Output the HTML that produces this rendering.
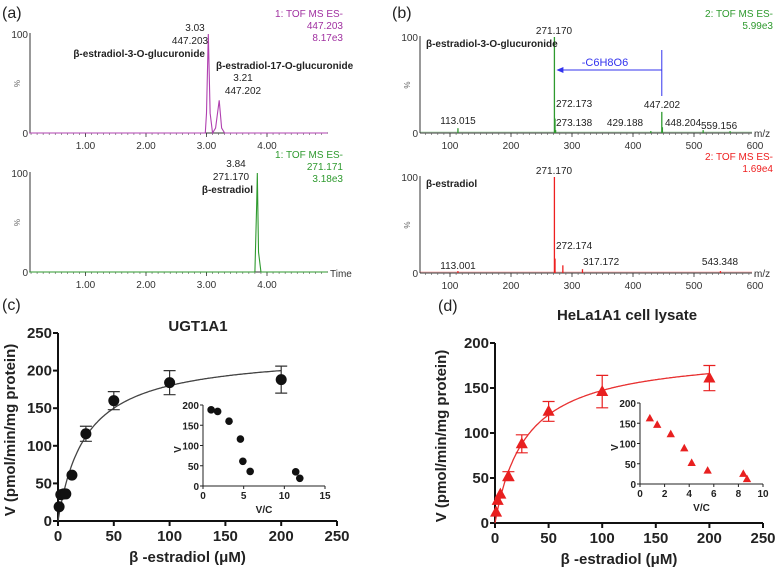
<!DOCTYPE html>
<html><head><meta charset="utf-8">
<style>
html,body{margin:0;padding:0;background:#fff;}
svg{display:block;font-family:"Liberation Sans",Arial,sans-serif;}
</style></head>
<body>
<svg id="fig" width="780" height="568" viewBox="0 0 780 568" xmlns="http://www.w3.org/2000/svg">
<g id="root"></g>
</svg>
<script>
// ---------- data ----------
// (a) chromatograms: time (min), intensity (%)
const chromTopT = [0.07, 2.98, 3.0, 3.03, 3.06, 3.1, 3.15, 3.21, 3.25, 3.3, 5.0];
const chromTopI = [0, 0, 20, 100, 20, 0, 5, 33, 5, 0, 0];
const chromBotT = [0.07, 3.8, 3.83, 3.84, 3.86, 3.9, 5.0];
const chromBotI = [0, 0, 70, 100, 20, 0, 0];
const chromTicks = [1, 2, 3, 4];
const chromTickLabels = ["1.00", "2.00", "3.00", "4.00"];
// (b) mass spectra: m/z, intensity (%)
const msTopMz = [113.015, 271.170, 272.173, 273.138, 429.188, 447.202, 448.204, 515, 559.156];
const msTopI = [5, 100, 15, 3, 2, 22, 6, 3, 2];
const msBotMz = [113.001, 271.170, 272.174, 285, 317.172, 543.348];
const msBotI = [2, 100, 15, 8, 4, 2];
const msTicks = [100, 200, 300, 400, 500, 600];
// (c) UGT1A1 kinetics
const cConc = [1, 2.5, 5, 7, 12.5, 25, 50, 100, 200];
const cV = [19, 35, 36, 36, 61, 116, 160, 184, 188];
const cErr = [0, 0, 0, 0, 0, 10, 12, 16, 18];
const cVmax = 225, cKm = 25;
const cInsetVC = [1, 1.8, 3.2, 4.6, 4.9, 5.8, 11.4, 11.9];
const cInsetV = [188, 184, 160, 116, 61, 36, 35, 19];
// (d) HeLa1A1 kinetics
const dConc = [1, 2.5, 5, 12.5, 25, 50, 100, 200];
const dV = [12, 25, 32, 52, 88, 124, 146, 161];
const dErr = [0, 0, 0, 5, 10, 11, 18, 14];
const dVmax = 190, dKm = 29;
const dInsetVC = [0.8, 1.4, 2.5, 3.6, 4.2, 5.5, 8.4, 8.7];
const dInsetV = [162, 146, 123, 88, 52, 33, 25, 12];
const mainXTicks = [0, 50, 100, 150, 200, 250];

const NS = "http://www.w3.org/2000/svg";
const root = document.getElementById("root");
function el(tag, attrs, parent, text) {
  const e = document.createElementNS(NS, tag);
  for (const k in attrs) e.setAttribute(k, attrs[k]);
  if (text !== undefined) e.textContent = text;
  (parent || root).appendChild(e);
  return e;
}
function txt(x, y, s, size, fill, anchor, weight, name, parent) {
  const t = el("text", {x: x, y: y, "font-size": size, fill: fill || "#222", "text-anchor": anchor || "start", "font-weight": weight || "normal"}, parent, s);
  
  
  return t;
}
function lin(d0, d1, p0, p1) { return v => p0 + (v - d0) * (p1 - p0) / (d1 - d0); }

// ---------- (a) chromatograms ----------
function chrom(gy0, gy100, T, I, color, name) {
  const g = el("g", {});
  
  
  const xs = lin(0, 1, 25, 85.5), ys = lin(0, 100, gy0, gy100);
  el("line", {x1: 30, y1: gy100 - 1, x2: 30, y2: gy0, stroke: "#333", "stroke-width": 1}, g);
  el("line", {x1: 30, y1: gy0, x2: 328, y2: gy0, stroke: "#333", "stroke-width": 1}, g);
  for (let t = 0.1; t < 4.95; t += 0.1) el("line", {x1: xs(t), y1: gy0, x2: xs(t), y2: gy0 + 2, stroke: "#555", "stroke-width": 0.6}, g);
  chromTicks.forEach((t, i) => {
    el("line", {x1: xs(t), y1: gy0, x2: xs(t), y2: gy0 + 4, stroke: "#333", "stroke-width": 0.8}, g);
    txt(xs(t), gy0 + 16, chromTickLabels[i], 10, "#333", "middle", "normal", "x-tick-label", g);
  });
  [0, 100].forEach(v => txt(28, ys(v) + 4, String(v), 10, "#333", "end", "normal", "y-tick-label", g));
  const pct = txt(20, ys(50), "%", 8, "#666", "middle", "normal", "y-axis-title", g);
  pct.setAttribute("transform", `rotate(-90 20 ${ys(50)})`);
  const pts = T.map((t, i) => xs(t) + "," + ys(I[i])).join(" ");
  const p = el("polyline", {points: pts, fill: "none", stroke: color, "stroke-width": 1.1}, g);
  
  
  return {xs, ys};
}
txt(2, 18, "(a)", 16, "#222", "start", "normal", "panel-label-a");
chrom(133, 34, chromTopT, chromTopI, "#b040b0", "chromatogram-glucuronides");
chrom(272, 173, chromBotT, chromBotI, "#2e9a2e", "chromatogram-estradiol");
txt(343, 17, "1: TOF MS ES-", 10, "#a030a0", "end", "normal", "trace-header");
txt(343, 29, "447.203", 10, "#a030a0", "end", "normal", "trace-header-mz");
txt(343, 41, "8.17e3", 10, "#a030a0", "end", "normal", "trace-header-intensity");
txt(195, 31, "3.03", 10, "#222", "middle", "normal", "peak-rt");
txt(190, 44, "447.203", 10, "#222", "middle", "normal", "peak-mz");
txt(205, 57, "β-estradiol-3-O-glucuronide", 10, "#222", "end", "bold", "peak-name");
txt(216, 69, "β-estradiol-17-O-glucuronide", 10, "#222", "start", "bold", "peak-name");
txt(243, 81, "3.21", 10, "#222", "middle", "normal", "peak-rt");
txt(243, 94, "447.202", 10, "#222", "middle", "normal", "peak-mz");
txt(343, 158, "1: TOF MS ES-", 10, "#2e9a2e", "end", "normal", "trace-header");
txt(343, 170, "271.171", 10, "#2e9a2e", "end", "normal", "trace-header-mz");
txt(343, 182, "3.18e3", 10, "#2e9a2e", "end", "normal", "trace-header-intensity");
txt(236, 167, "3.84", 10, "#222", "middle", "normal", "peak-rt");
txt(231, 180, "271.170", 10, "#222", "middle", "normal", "peak-mz");
txt(253, 193, "β-estradiol", 10, "#222", "end", "bold", "peak-name");
txt(330, 277, "Time", 10, "#333", "start", "normal", "x-axis-title");

// ---------- (b) spectra ----------
function spectrum(gy0, gy100, MZ, I, color, name) {
  const g = el("g", {});
  
  
  const xs = lin(0, 100, 389, 450), ys = lin(0, 100, gy0, gy100);
  el("line", {x1: 420, y1: gy100 - 1, x2: 420, y2: gy0, stroke: "#333", "stroke-width": 1}, g);
  el("line", {x1: 420, y1: gy0, x2: 752, y2: gy0, stroke: "#333", "stroke-width": 1}, g);
  for (let m = 60; m < 600; m += 10) el("line", {x1: xs(m), y1: gy0, x2: xs(m), y2: gy0 + 2, stroke: "#555", "stroke-width": 0.6}, g);
  msTicks.forEach(m => {
    el("line", {x1: xs(m), y1: gy0, x2: xs(m), y2: gy0 + 4, stroke: "#333", "stroke-width": 0.8}, g);
    txt(xs(m), gy0 + 16, String(m), 10, "#333", "middle", "normal", "x-tick-label", g);
  });
  [0, 100].forEach(v => txt(418, ys(v) + 4, String(v), 10, "#333", "end", "normal", "y-tick-label", g));
  const pct = txt(410, ys(50), "%", 8, "#666", "middle", "normal", "y-axis-title", g);
  pct.setAttribute("transform", `rotate(-90 410 ${ys(50)})`);
  txt(754, gy0 + 4, "m/z", 10, "#333", "start", "normal", "x-axis-title", g);
  // baseline noise
  el("line", {x1: 420, y1: gy0 - 1, x2: 752, y2: gy0 - 1, stroke: color, "stroke-width": 0.6, opacity: 0.6}, g);
  MZ.forEach((m, i) => {
    const s = el("line", {x1: xs(m), y1: gy0, x2: xs(m), y2: ys(I[i]), stroke: color, "stroke-width": 1.3}, g);
    
    
  });
  return {xs, ys};
}
txt(392, 18, "(b)", 16, "#222", "start", "normal", "panel-label-b");
const sT = spectrum(133, 37, msTopMz, msTopI, "#2e9a2e", "spectrum-glucuronide");
const sB = spectrum(273, 177, msBotMz, msBotI, "#ee2020", "spectrum-estradiol");
txt(773, 17, "2: TOF MS ES-", 10, "#2e9a2e", "end", "normal", "spectrum-header");
txt(773, 29, "5.99e3", 10, "#2e9a2e", "end", "normal", "spectrum-header-intensity");
txt(426, 47, "β-estradiol-3-O-glucuronide", 10, "#222", "start", "bold", "spectrum-name");
txt(554, 34, "271.170", 10, "#222", "middle", "normal", "peak-label");
txt(556, 107, "272.173", 10, "#222", "start", "normal", "peak-label");
txt(556, 126, "273.138", 10, "#222", "start", "normal", "peak-label");
txt(458, 124, "113.015", 10, "#222", "middle", "normal", "peak-label");
txt(625, 126, "429.188", 10, "#222", "middle", "normal", "peak-label");
txt(662, 108, "447.202", 10, "#222", "middle", "normal", "peak-label");
txt(665, 126, "448.204", 10, "#222", "start", "normal", "peak-label");
txt(701, 129, "559.156", 10, "#222", "start", "normal", "peak-label");
// neutral loss arrow
(function(){
  const x1 = sT.xs(447.202), x0 = sT.xs(271.17);
  const g = el("g", {});
  
  
  el("line", {x1: x1, y1: 50, x2: x1, y2: 96, stroke: "#3333ee", "stroke-width": 1}, g);
  el("line", {x1: x1, y1: 70, x2: x0 + 4, y2: 70, stroke: "#3333ee", "stroke-width": 1}, g);
  el("polygon", {points: `${x0+2},70 ${x0+9},67 ${x0+9},73`, fill: "#3333ee"}, g);
  txt(605, 66, "-C6H8O6", 11, "#3333ee", "middle", "normal", "neutral-loss-label", g);
})();
txt(773, 160, "2: TOF MS ES-", 10, "#ee2020", "end", "normal", "spectrum-header");
txt(773, 172, "1.69e4", 10, "#ee2020", "end", "normal", "spectrum-header-intensity");
txt(554, 174, "271.170", 10, "#222", "middle", "normal", "peak-label");
txt(426, 187, "β-estradiol", 10, "#222", "start", "bold", "spectrum-name");
txt(556, 249, "272.174", 10, "#222", "start", "normal", "peak-label");
txt(583, 265, "317.172", 10, "#222", "start", "normal", "peak-label");
txt(458, 269, "113.001", 10, "#222", "middle", "normal", "peak-label");
txt(720, 265, "543.348", 10, "#222", "middle", "normal", "peak-label");

// ---------- kinetics panels ----------
function kinetics(o) {
  const g = el("g", {});
  
  
  const xs = lin(0, 250, o.x0, o.x1), ys = lin(0, o.yMax, o.y0, o.y1);
  el("line", {x1: o.x0, y1: o.y1, x2: o.x0, y2: o.y0, stroke: "#111", "stroke-width": 2}, g);
  el("line", {x1: o.x0, y1: o.y0, x2: o.x1, y2: o.y0, stroke: "#111", "stroke-width": 2}, g);
  o.yTicks.forEach(v => {
    el("line", {x1: o.x0 - 5, y1: ys(v), x2: o.x0, y2: ys(v), stroke: "#111", "stroke-width": 2}, g);
    txt(o.x0 - 6, ys(v) + 5, String(v), 15, "#222", "end", "bold", "y-tick-label", g);
  });
  mainXTicks.forEach(v => {
    el("line", {x1: xs(v), y1: o.y0, x2: xs(v), y2: o.y0 + 5, stroke: "#111", "stroke-width": 2}, g);
    txt(xs(v), o.y0 + 20, String(v), 15, "#222", "middle", "bold", "x-tick-label", g);
  });
  const cx = (o.x0 + o.x1) / 2 - 10;
  txt(cx, o.y0 + 41, "β -estradiol (μM)", 15, "#222", "middle", "bold", "x-axis-title", g);
  const yt = txt(o.yTitleX, (o.y0 + o.y1) / 2 + 3, "V (pmol/min/mg protein)", 15, "#222", "middle", "bold", "y-axis-title", g);
  yt.setAttribute("transform", `rotate(-90 ${o.yTitleX} ${(o.y0 + o.y1) / 2 + 3})`);
  txt(o.titleX, o.titleY, o.title, 15, "#222", "middle", "bold", "chart-title", g);
  // fitted Michaelis-Menten curve from fitted parameters
  let d = "";
  for (let c = 0; c <= 200; c += 1) {
    const v = o.vmax * c / (o.km + c);
    d += (c ? "L" : "M") + xs(c).toFixed(1) + "," + ys(v).toFixed(1);
  }
  const fit = el("path", {d: d, fill: "none", stroke: o.lineColor, "stroke-width": 1.3}, g);
  
  
  o.conc.forEach((c, i) => {
    const x = xs(c), y = ys(o.v[i]);
    if (o.err[i]) {
      const e = el("path", {d: `M${x},${ys(o.v[i]+o.err[i])}V${ys(o.v[i]-o.err[i])}M${x-6},${ys(o.v[i]+o.err[i])}h12M${x-6},${ys(o.v[i]-o.err[i])}h12`, stroke: o.color, "stroke-width": 1.2, fill: "none"}, g);
      
      
    }
    const m = o.marker(x, y, 5.5, g);
    
    
  });
  // inset
  const ix = lin(0, o.inXMax, o.ix0, o.ix1), iy = lin(0, 200, o.iy0, o.iy1);
  const ig = el("g", {}, g);
  
  
  el("line", {x1: o.ix0, y1: o.iy1, x2: o.ix0, y2: o.iy0, stroke: "#222", "stroke-width": 1}, ig);
  el("line", {x1: o.ix0, y1: o.iy0, x2: o.ix1, y2: o.iy0, stroke: "#222", "stroke-width": 1}, ig);
  [0, 50, 100, 150, 200].forEach(v => {
    el("line", {x1: o.ix0 - 3, y1: iy(v), x2: o.ix0, y2: iy(v), stroke: "#222"}, ig);
    txt(o.ix0 - 4, iy(v) + 4, String(v), 10, "#222", "end", "bold", "inset-y-tick-label", ig);
  });
  o.inXTicks.forEach(v => {
    el("line", {x1: ix(v), y1: o.iy0, x2: ix(v), y2: o.iy0 + 3, stroke: "#222"}, ig);
    txt(ix(v), o.iy0 + 13, String(v), 10, "#222", "middle", "bold", "inset-x-tick-label", ig);
  });
  txt((o.ix0 + o.ix1) / 2, o.iy0 + 27, "V/C", 10, "#222", "middle", "bold", "inset-x-title", ig);
  const vy = (o.iy0 + o.iy1) / 2 + 4;
  const vl = txt(o.ix0 - 22, vy, "V", 10, "#222", "middle", "bold", "inset-y-title", ig);
  vl.setAttribute("transform", `rotate(-90 ${o.ix0 - 22} ${vy})`);
  o.inVC.forEach((c, i) => {
    const m = o.marker(ix(c), iy(o.inV[i]), 3.8, ig);
    
    
  });
}
function circle(x, y, r, p) { return el("circle", {cx: x, cy: y, r: r, fill: "#111"}, p); }
function tri(x, y, r, p) { return el("polygon", {points: `${x},${y-r*1.2} ${x-r*1.1},${y+r*0.8} ${x+r*1.1},${y+r*0.8}`, fill: "#e82020"}, p); }

txt(2, 310, "(c)", 16, "#222", "start", "normal", "panel-label-c");
kinetics({name: "ugt1a1-kinetics", x0: 58, x1: 337, y0: 521, y1: 333, yMax: 250,
  yTicks: [0, 50, 100, 150, 200, 250], yTitleX: 15, title: "UGT1A1", titleX: 198, titleY: 331,
  conc: cConc, v: cV, err: cErr, vmax: cVmax, km: cKm, color: "#333", lineColor: "#444", marker: circle,
  ix0: 203, ix1: 325, iy0: 486, iy1: 405, inXMax: 15, inXTicks: [0, 5, 10, 15], inVC: cInsetVC, inV: cInsetV});

txt(438, 311, "(d)", 16, "#222", "start", "normal", "panel-label-d");
kinetics({name: "hela1a1-kinetics", x0: 495, x1: 763, y0: 523, y1: 343, yMax: 200,
  yTicks: [0, 50, 100, 150, 200], yTitleX: 446, title: "HeLa1A1 cell lysate", titleX: 627, titleY: 320,
  conc: dConc, v: dV, err: dErr, vmax: dVmax, km: dKm, color: "#e82020", lineColor: "#e83030", marker: tri,
  ix0: 640, ix1: 763, iy0: 484, iy1: 403, inXMax: 10, inXTicks: [0, 2, 4, 6, 8, 10], inVC: dInsetVC, inV: dInsetV});
</script>
</body></html>
